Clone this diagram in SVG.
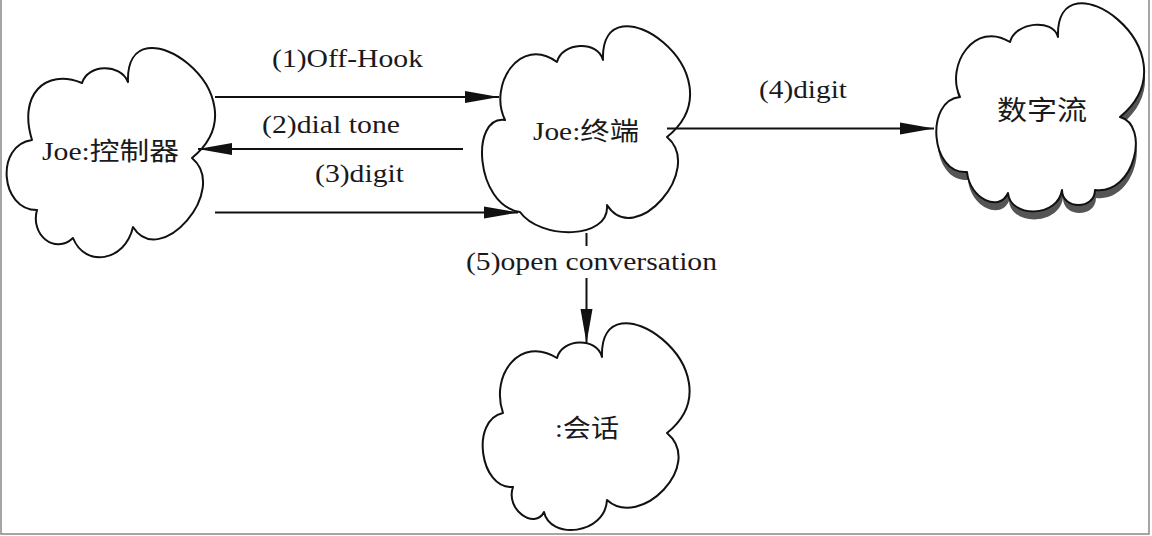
<svg xmlns="http://www.w3.org/2000/svg" width="1152" height="536" viewBox="0 0 1152 536">
<style>
.cloud{fill:#fff;stroke:#111;stroke-width:2;stroke-linejoin:round}
.shadow{fill:#555;stroke:none}
.conn{stroke:#111;stroke-width:2;fill:none}
.t{font-family:"Liberation Serif","Noto Sans CJK SC",serif;font-size:25px;fill:#1a1a1a}
.frame{fill:none;stroke:#888;stroke-width:1.5}
</style>
<defs>
<marker id="ah" markerUnits="userSpaceOnUse" markerWidth="36" markerHeight="14" refX="34" refY="6" orient="auto" overflow="visible"><path d="M0,0 L34,6 L0,12 Z" fill="#111"/></marker>
</defs>
<rect width="1152" height="536" fill="#fff"/>
<path class="frame" d="M1,0 V534 H1149 V0"/>

<g id="node-controller">
<path class="cloud" d="M32,140 C18,95 45,68 82,83 C88,64 120,63 128,82 C125,-5 270,95 192,158 C230,190 160,270 133,227 C125,262 85,268 73,238 C55,255 30,235 37,210 C0,210 -5,145 32,140 Z"/>
<text class="t" x="42" y="160" textLength="137" lengthAdjust="spacingAndGlyphs">Joe:控制器</text>
</g>

<g id="node-terminal">
<path class="cloud" d="M505,120 C488,85 520,35 557,62 C562,42 598,40 603,60 C600,-27 745,74 667,137 C705,169 635,249 607,205 C610,240 540,240 520,212 C475,205 470,115 505,120 Z"/>
<text class="t" x="533" y="140" textLength="106" lengthAdjust="spacingAndGlyphs">Joe:终端</text>
</g>

<g id="node-digitstream">
<path class="shadow" transform="translate(1,8)" d="M960,97 C945,65 975,20 1010,42 C1015,22 1053,18 1058,37 C1055,-50 1200,51 1120,117 C1150,125 1135,195 1095,190 C1095,210 1062,210 1062,190 C1058,218 1010,218 1008,193 C1000,212 970,200 967,172 C930,175 925,100 960,97 Z"/>
<path class="cloud" d="M960,97 C945,65 975,20 1010,42 C1015,22 1053,18 1058,37 C1055,-50 1200,51 1120,117 C1150,125 1135,195 1095,190 C1095,210 1062,210 1062,190 C1058,218 1010,218 1008,193 C1000,212 970,200 967,172 C930,175 925,100 960,97 Z"/>
<text class="t" x="997" y="120" style="font-size:27px" textLength="90" lengthAdjust="spacingAndGlyphs">数字流</text>
</g>

<g id="node-session">
<path class="cloud" d="M503,413 C490,375 520,335 557,358 C562,338 597,337 602,357 C599,270 744,371 667,433 C705,465 640,530 607,500 C605,535 550,540 544,512 C535,530 505,510 513,487 C480,490 470,420 503,413 Z"/>
<text class="t" x="555" y="437" textLength="64" lengthAdjust="spacingAndGlyphs">:会话</text>
</g>

<g id="connectors">
<path class="conn" d="M215,97 H499" marker-end="url(#ah)"/>
<text class="t" x="272" y="67" textLength="151" lengthAdjust="spacingAndGlyphs">(1)Off-Hook</text>
<path class="conn" d="M463,149 H198" marker-end="url(#ah)"/>
<text class="t" x="262" y="133" textLength="138" lengthAdjust="spacingAndGlyphs">(2)dial tone</text>
<path class="conn" d="M215,212.5 H518" marker-end="url(#ah)"/>
<text class="t" x="315" y="182" textLength="89" lengthAdjust="spacingAndGlyphs">(3)digit</text>
<path class="conn" d="M667,128.5 H934" marker-end="url(#ah)"/>
<text class="t" x="759" y="98" textLength="88" lengthAdjust="spacingAndGlyphs">(4)digit</text>
<path class="conn" d="M586.5,233 V246 M586.5,278 V343" marker-end="url(#ah)"/>
<text class="t" x="466" y="270" textLength="251" lengthAdjust="spacingAndGlyphs">(5)open conversation</text>
</g>
</svg>
